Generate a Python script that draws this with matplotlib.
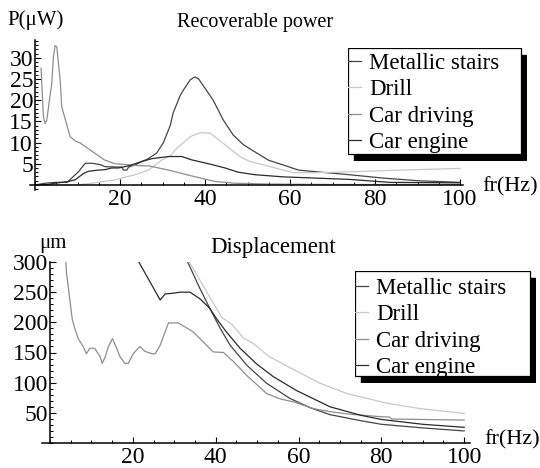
import matplotlib.pyplot as plt
from matplotlib.patches import Rectangle
from matplotlib.ticker import MultipleLocator

plt.rcParams['font.family'] = ['Liberation Serif', 'DejaVu Serif']

labels = ['Metallic stairs', 'Drill', 'Car driving', 'Car engine']
colors = ['#454545', '#c8c8c8', '#8e8e8e', '#2a2a2a']

# recoverable power, uW
stairs_f = [0, 2.4, 4.7, 7.5, 8.6, 10.2, 11.8, 13.5, 15.3, 16.5, 20.4, 20.8, 21.6, 22, 23.5, 25.5,
            26.3, 28.6, 30.2, 31.8, 32.5, 34.1, 34.9, 36.5, 37.6, 38.5, 40, 41.9, 44.3, 46.6, 49,
            52.2, 55, 58.4, 62, 66.2, 74, 82, 90, 100]
stairs_p = [0, 0.4, 0.6, 0.6, 1.6, 3.1, 5.1, 5.1, 4.8, 4.3, 4.2, 3.5, 3.5, 4.2, 4.7, 5.7,
            6.0, 7.5, 10, 14, 17, 21, 22.4, 24.8, 25.5, 25, 22.8, 20, 15.3, 11.8, 9.5,
            7.5, 5.8, 4.7, 3.5, 3.1, 2.4, 1.6, 1.0, 0.6]

drill_f = [1, 10, 13.3, 18.8, 23.5, 26.7, 29.8, 31.8, 33, 36.5, 38.8, 41.2, 44.3, 48.2, 50.6,
           52.2, 56.9, 60.7, 67, 74, 86, 100]
drill_p = [0, 0, 0.4, 1.2, 2.4, 3.5, 5.9, 6.8, 8.3, 11.4, 12.3, 12.2, 9.8, 6.7, 5.5,
           5.1, 3.9, 2.9, 2.9, 3.1, 3.5, 3.9]

drive_f = [1.4, 1.96, 2.35, 2.75, 3.37, 3.92, 4.31, 4.71, 5.1, 5.9, 6.27, 8.24, 9.4, 10.6, 16.3,
           18.8, 25, 26.7, 31.4, 36.9, 42.4, 47, 55, 70, 100]
drive_p = [27.5, 16.1, 14.5, 15.3, 20.0, 23.9, 30.2, 32.9, 32.6, 24.7, 18.4, 11.4, 10.4, 9.9, 5.9,
           5.0, 4.5, 4.5, 3.5, 2.1, 0.8, 0.4, 0.2, 0.1, 0.1]

engine_f = [0, 3, 4.7, 7.8, 9.4, 11.4, 12.5, 14.9, 16.5, 18, 19.6, 22, 25, 27.5, 31.4, 34.5,
            36.9, 40.8, 44.7, 47.8, 51.8, 58.4, 66.2, 74, 83.5, 100]
engine_p = [0, 0.1, 0.4, 0.8, 1.2, 2.7, 3.2, 3.5, 3.6, 4.0, 4.0, 4.5, 5.5, 6.2, 6.7, 6.7,
            5.9, 5.0, 4.0, 3.0, 2.4, 1.9, 1.6, 1.3, 0.6, 0.5]

# displacement, um
stairs_df = [32.9, 36.2, 38.6, 41.1, 43.5, 47.5, 52.3, 57.9, 63, 67.6, 75, 80, 90, 100]
stairs_d = [305, 256, 223, 190, 162, 129, 99, 74, 58, 47, 37, 31, 25, 20]

drill_df = [33.2, 37.8, 41.5, 44, 46.7, 49.1, 52.7, 57.9, 65.2, 71.7, 81.3, 89.4, 100]
drill_d = [305, 251, 208, 196, 174, 165, 144, 125, 99, 82, 66, 57, 49]

drive_df = [3.8, 4.0, 4.8, 5.4, 6.0, 6.8, 8.0, 8.8, 9.6, 10.8, 12.1, 12.6, 13.3, 14.1, 15.1,
            16.1, 16.9, 18.1, 18.9, 20.1, 21.7, 22.9, 24.6, 25.4, 26.6, 28.6, 31.0, 34.6, 39.4,
            41.9, 44.3, 47.5, 52.3, 55.6, 58.9, 63.6, 67.6, 72, 80, 82, 82.5, 90, 100]
drive_d = [305, 281, 237, 204, 190, 173, 160, 148, 157, 157, 143, 132, 142, 160, 173,
           157, 143, 132, 132, 148, 160, 152, 148, 148, 162, 199, 199, 184, 151,
           150, 135, 112, 82, 73, 68, 57, 52, 48, 43.5, 43, 39.7, 39, 38]

engine_df = [21.2, 26.6, 27.8, 29.4, 31.4, 33.8, 36.2, 38.6, 40.2, 42.6, 45.9, 49.9, 53.9,
             59.5, 67.6, 75, 80, 90, 100]
engine_d = [303, 237, 247, 248, 250, 250, 239, 223, 206, 184, 157, 131, 110,
            87, 60, 46, 39, 31, 26]

W, H = 540, 468
fig = plt.figure(figsize=(W / 100, H / 100), dpi=100)


def fx(x):
    return x / W


def fy(y):
    # pixel row (from top) -> figure fraction
    return 1 - y / H


def px_axes(x0, y0, x1, y1):
    return fig.add_axes([fx(x0), fy(y1), (x1 - x0) / W, (y1 - y0) / H])


def style(ax, xlim, ylim, yticks, yminor):
    ax.set_xlim(*xlim)
    ax.set_ylim(*ylim)
    ax.patch.set_visible(False)
    ax.spines['top'].set_visible(False)
    ax.spines['right'].set_visible(False)
    ax.spines['left'].set_position(('data', 0))
    ax.spines['bottom'].set_position(('data', 0))
    for s in ['left', 'bottom']:
        ax.spines[s].set_linewidth(1.1)
    ax.set_xticks([20, 40, 60, 80, 100])
    ax.xaxis.set_minor_locator(MultipleLocator(5))
    ax.set_yticks(yticks)
    ax.yaxis.set_minor_locator(MultipleLocator(yminor))
    ax.tick_params(which='major', direction='in', length=4, width=0.8, labelsize=17)
    ax.tick_params(which='minor', direction='in', length=2, width=0.7)
    ax.tick_params(axis='y', pad=1.5)
    ax.tick_params(axis='x', pad=3)


def shadow_legend(ax, box, text_top, sx=6, sy=7):
    # Mathematica-like legend: white box with a black drop shadow
    x0, y0, x1, y1 = box
    lax = px_axes(x0, y0, x1 + sx, y1 + sy)
    lax.set_zorder(5)
    lax.set_xlim(x0, x1 + sx)
    lax.set_ylim(y1 + sy, y0)
    lax.set_axis_off()
    lax.add_patch(Rectangle((x0 + sx, y0 + sy), x1 - x0, y1 - y0, facecolor='black',
                            edgecolor='black', lw=1))
    lax.add_patch(Rectangle((x0, y0), x1 - x0, y1 - y0, facecolor='white',
                            edgecolor='black', lw=0.9))
    leg = lax.legend(ax.get_lines(), labels, loc='upper left',
                     bbox_to_anchor=(fx(x0), fy(text_top)), bbox_transform=fig.transFigure,
                     borderaxespad=0, borderpad=0, handlelength=0.57, handletextpad=0.35,
                     labelspacing=0.24, fontsize=16.5, frameon=False)
    return leg


# Recoverable power
ax1 = px_axes(30, 40, 463, 190)
for f, p, c in zip([stairs_f, drill_f, drive_f, engine_f],
                   [stairs_p, drill_p, drive_p, engine_p], colors):
    ax1.plot(f, p, color=c, lw=0.9)
style(ax1, (-1.2, 100.7), (-1.2, 34.2), [5, 10, 15, 20, 25, 30], 1)
shadow_legend(ax1, (348, 48, 521, 154), 52.5)

# Displacement
ax2 = px_axes(41.7, 262, 470, 443)
for f, d, c in zip([stairs_df, drill_df, drive_df, engine_df],
                   [stairs_d, drill_d, drive_d, engine_d], colors):
    ax2.plot(f, d, color=c, lw=0.9)
style(ax2, (-2.0, 101.4), (0, 300), [50, 100, 150, 200, 250, 300], 10)
shadow_legend(ax2, (355, 271, 530, 376), 277.5)

fig.text(fx(255), fy(22), 'Recoverable power', fontsize=14.5, ha='center', va='center')
fig.text(fx(273), fy(247), 'Displacement', fontsize=16.5, ha='center', va='center')
fig.text(fx(36), fy(20), 'P(μW)', fontsize=15, ha='center', va='center')
fig.text(fx(53), fy(243), 'μm', fontsize=15, ha='center', va='center')
fig.text(fx(482), fy(187), 'fr(Hz)', fontsize=16, ha='left', va='center')
fig.text(fx(484), fy(440), 'fr(Hz)', fontsize=16, ha='left', va='center')

fig.savefig('out.png', dpi=100)
